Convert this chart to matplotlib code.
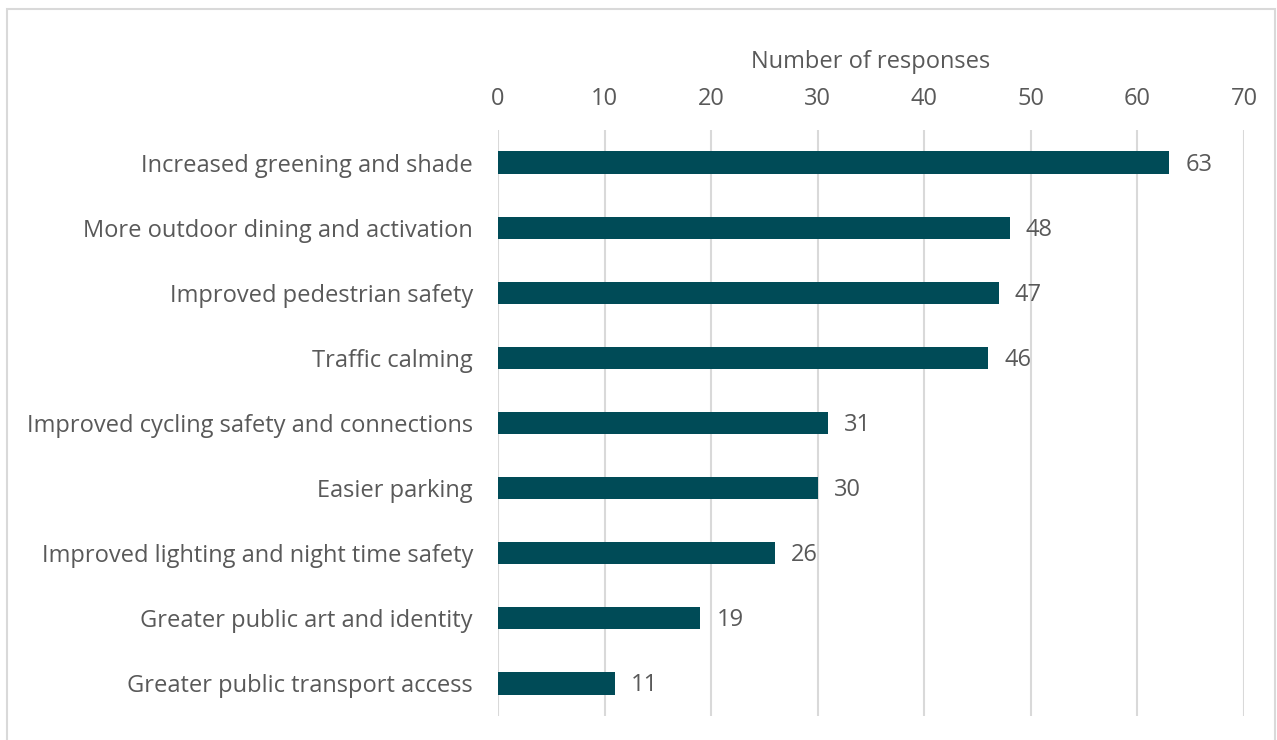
import matplotlib.pyplot as plt
from matplotlib.patches import Rectangle

categories = [
    "Increased greening and shade",
    "More outdoor dining and activation",
    "Improved pedestrian safety",
    "Traffic calming",
    "Improved cycling safety and connections",
    "Easier parking",
    "Improved lighting and night time safety",
    "Greater public art and identity",
    "Greater public transport access",
]
responses = [63, 48, 47, 46, 31, 30, 26, 19, 11]
ticks = [0, 10, 20, 30, 40, 50, 60, 70]

text_color = "#595959"
bar_color = "#004B57"
fs = 17
plt.rcParams['font.family'] = ['Open Sans', 'DejaVu Sans']

fig = plt.figure(figsize=(12.77, 7.40), dpi=100)
ax = fig.add_axes([498 / 1277, 1 - 716 / 740, (1244 - 498) / 1277, (716 - 130) / 740])

# outer border
fig.patches.append(Rectangle((7 / 1277, -0.05), 1268 / 1277, 1 - 9 / 740 + 0.05,
                             transform=fig.transFigure, fill=False,
                             edgecolor="#d9d9d9", linewidth=1.5))

ypos = list(range(len(categories)))
ax.barh(ypos, responses, height=0.34, color=bar_color, zorder=3)
for y, v in zip(ypos, responses):
    ax.text(v + 1.5, y + 0.03, str(v), va="center", ha="left", fontsize=fs, color=text_color)

ax.set_xlim(0, 70)
ax.set_ylim(8.5, -0.5)
ax.set_xticks(ticks)
ax.set_yticks(ypos)
ax.set_yticklabels(categories)
ax.xaxis.tick_top()
ax.xaxis.set_label_position("top")
ax.set_xlabel("Number of responses", fontsize=fs, color=text_color, labelpad=13)
ax.tick_params(axis="x", length=0, labelsize=fs, labelcolor=text_color, pad=14)
ax.tick_params(axis="y", length=0, labelsize=fs, labelcolor=text_color, pad=18)
ax.grid(axis="x", color="#d9d9d9", linewidth=1.5, zorder=0)
for s in ax.spines.values():
    s.set_visible(False)

plt.savefig("out.png", dpi=100)
